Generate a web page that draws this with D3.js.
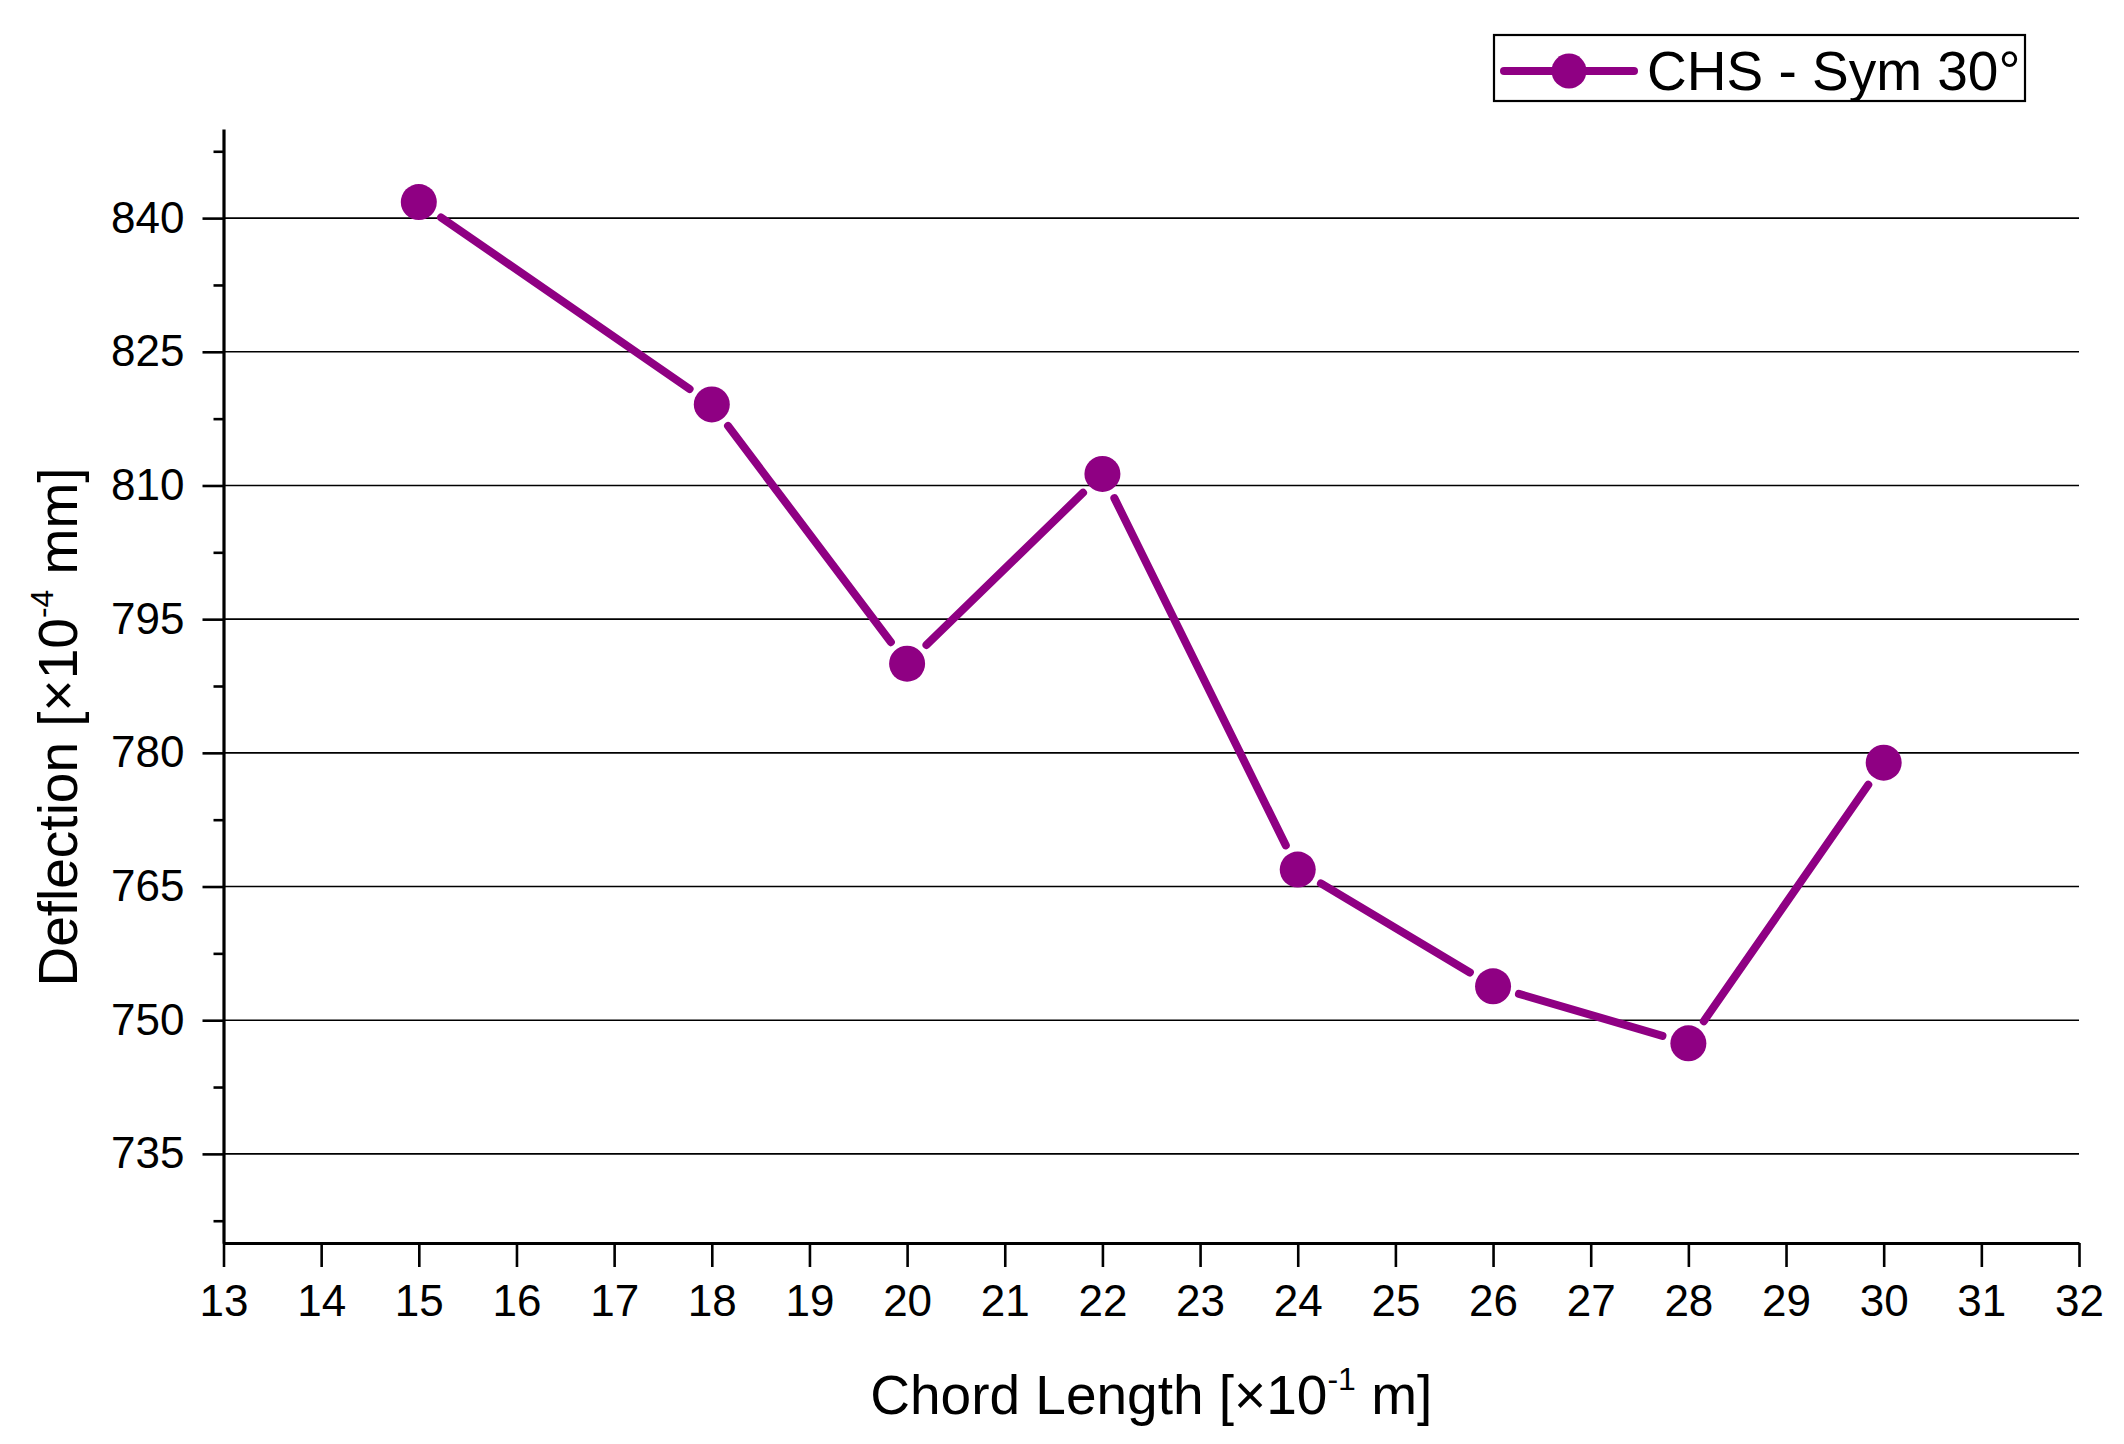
<!DOCTYPE html>
<html>
<head>
<meta charset="utf-8">
<script src="https://cdn.jsdelivr.net/npm/d3@7"></script>
<style>
  html, body { margin: 0; padding: 0; background: #fff; }
  svg { display: block; font-family: "Liberation Sans", Arial, sans-serif; }
</style>
</head>
<body>
<svg id="chart" width="2124" height="1444"></svg>
<script>
// ---- data ----
const chordLength = [15, 18, 20, 22, 24, 26, 28, 30];
const deflection  = [841.8, 819.1, 790.0, 811.3, 766.9, 753.8, 747.4, 778.9];
const seriesName  = "CHS - Sym 30°";
const xTicks      = [13,14,15,16,17,18,19,20,21,22,23,24,25,26,27,28,29,30,31,32];
const yMajorTicks = [735, 750, 765, 780, 795, 810, 825, 840];
const yMinorTicks = [727.5, 742.5, 757.5, 772.5, 787.5, 802.5, 817.5, 832.5, 847.5];

(function () {
// ---- layout ----
const color = "#8f0083";
const svg = d3.select("#chart");
const pLeft = 223.5, pRight = 2079, pTop = 129, pBottom = 1243;

const x = d3.scaleLinear().domain([13, 32]).range([pLeft, pRight]);
const y = d3.scaleLinear().domain([725, 850]).range([pBottom, pTop]);

// gridlines
svg.append("g").selectAll("line").data(yMajorTicks).join("line")
  .attr("x1", pLeft).attr("x2", pRight)
  .attr("y1", d => y(d)).attr("y2", d => y(d))
  .attr("stroke", "#000").attr("stroke-width", 1.6);

// x axis
const xAxis = svg.append("g").attr("transform", `translate(0,${pBottom})`)
  .call(d3.axisBottom(x).tickValues(xTicks).tickSize(24).tickPadding(18).tickSizeOuter(0));
xAxis.select(".domain").attr("stroke", "#000").attr("stroke-width", 3.2);
xAxis.selectAll(".tick line").attr("stroke", "#000").attr("stroke-width", 2.6);
xAxis.selectAll(".tick text").attr("font-size", 44).attr("fill", "#000")
  .attr("font-family", "Liberation Sans, Arial, sans-serif");

// y axis major
const yAxis = svg.append("g").attr("transform", `translate(${pLeft},0)`)
  .call(d3.axisLeft(y).tickValues(yMajorTicks).tickSize(21).tickPadding(18).tickSizeOuter(0));
yAxis.select(".domain").attr("stroke", "#000").attr("stroke-width", 3.2);
yAxis.selectAll(".tick line").attr("stroke", "#000").attr("stroke-width", 2.6);
yAxis.selectAll(".tick text").attr("font-size", 44).attr("fill", "#000")
  .attr("font-family", "Liberation Sans, Arial, sans-serif");

// y axis minor
const yMinor = svg.append("g").attr("transform", `translate(${pLeft},0)`)
  .call(d3.axisLeft(y).tickValues(yMinorTicks).tickSize(10).tickFormat(""));
yMinor.select(".domain").remove();
yMinor.selectAll(".tick line").attr("stroke", "#000").attr("stroke-width", 2.6);

// data: line segments with gaps around markers
const pts = chordLength.map((c, i) => [x(c), y(deflection[i])]);
const gap = 27;
const segs = d3.pairs(pts).map(([a, b]) => {
  const dx = b[0] - a[0], dy = b[1] - a[1], L = Math.hypot(dx, dy);
  const ux = dx / L, uy = dy / L;
  return [a[0] + ux * gap, a[1] + uy * gap, b[0] - ux * gap, b[1] - uy * gap];
});
svg.append("g").selectAll("line").data(segs).join("line")
  .attr("x1", d => d[0]).attr("y1", d => d[1])
  .attr("x2", d => d[2]).attr("y2", d => d[3])
  .attr("stroke", color).attr("stroke-width", 8).attr("stroke-linecap", "round");

svg.append("g").selectAll("circle").data(pts).join("circle")
  .attr("cx", d => d[0]).attr("cy", d => d[1]).attr("r", 18)
  .attr("fill", color);

// axis titles
svg.append("text")
  .attr("x", (pLeft + pRight) / 2).attr("y", 1414)
  .attr("text-anchor", "middle").attr("font-size", 55).attr("fill", "#000")
  .call(t => {
    t.append("tspan").text("Chord Length [×10");
    t.append("tspan").attr("font-size", 32).attr("dy", -24).text("-1");
    t.append("tspan").attr("dy", 24).text(" m]");
  });

svg.append("text")
  .attr("transform", "translate(77,727) rotate(-90)")
  .attr("text-anchor", "middle").attr("font-size", 55).attr("fill", "#000")
  .call(t => {
    t.append("tspan").text("Deflection [×10");
    t.append("tspan").attr("font-size", 32).attr("dy", -24).text("-4");
    t.append("tspan").attr("dy", 24).text(" mm]");
  });

// legend
const lg = svg.append("g");
lg.append("rect").attr("x", 1494).attr("y", 35).attr("width", 531).attr("height", 66)
  .attr("fill", "#fff").attr("stroke", "#000").attr("stroke-width", 2.2);
lg.append("line").attr("x1", 1504).attr("x2", 1634).attr("y1", 71).attr("y2", 71)
  .attr("stroke", color).attr("stroke-width", 8).attr("stroke-linecap", "round");
lg.append("circle").attr("cx", 1569).attr("cy", 71).attr("r", 17.5).attr("fill", color);
lg.append("text").attr("x", 1647).attr("y", 90).attr("font-size", 55).attr("fill", "#000")
  .text(seriesName);
})();
</script>
</body>
</html>
